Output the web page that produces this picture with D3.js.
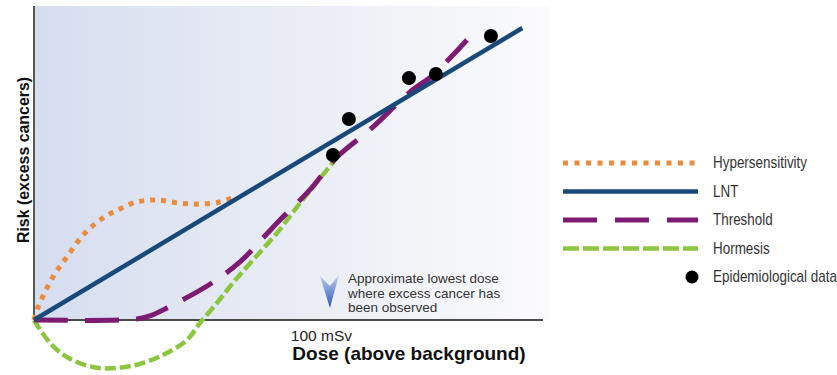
<!DOCTYPE html>
<html>
<head>
<meta charset="utf-8">
<script src="https://cdn.jsdelivr.net/npm/d3@7/dist/d3.min.js"></script>
<style>
  html, body { margin: 0; padding: 0; background: #fff; }
  svg { display: block; }
</style>
</head>
<body>
<script>
// Dose–response models for low-dose radiation risk (arbitrary units, dose in mSv)
const lntDose = [0, 165];
const lntRisk = [0, 165];

const hyperDose = [0, 1.4, 6.4, 11.1, 16.6, 22.3, 28, 34.8, 41.6, 49.3, 56, 62.8, 67.2];
const hyperRisk = [0, 7.3, 24.3, 35.6, 48, 56.5, 62, 66.7, 67.8, 66, 65.5, 66.7, 69];

const thresholdDose = [0, 34.8, 39.9, 44.9, 52.7, 60.1, 69.6, 78, 83.1, 93.2, 102.4, 114.2, 127, 134.8, 146.3];
const thresholdRisk = [0, 0.6, 2.8, 6.8, 13.6, 20.9, 32.8, 47.5, 56.5, 73.5, 92.1, 108.5, 128.8, 138.4, 158.2];

const hormesisDose = [0, 5.4, 11.1, 19.9, 28, 36.8, 44.9, 51.7, 56.1, 61.8, 67.2, 74, 82.1, 89.9, 101.7];
const hormesisRisk = [0, -13, -20.9, -26.6, -27.1, -24.3, -18.6, -11.3, -1.7, 9.6, 20.9, 33.9, 49.2, 66.1, 90.4];

const epiDose = [101.0, 106.4, 126.7, 135.8, 154.4];
const epiRisk = [93.2, 113.6, 136.7, 139.0, 160.5];

const doseTicks = [100];
const doseTickLabels = ["100 mSv"];

const legendLabels = ["Hypersensitivity", "LNT", "Threshold", "Hormesis", "Epidemiological data"];
const noteLines = ["Approximate lowest dose", "where excess cancer has", "been observed"];

const W = 837, H = 375;
const svg = d3.select("body").append("svg").attr("width", W).attr("height", H);

const x = d3.scaleLinear().domain([0, 172]).range([34, 543]);
const y = d3.scaleLinear().domain([0, 165]).range([320, 28]);
const plotTop = 6;
const sans = "'Liberation Sans', Arial, Helvetica, sans-serif";

const defs = svg.append("defs");
const bg = defs.append("linearGradient").attr("id", "bgGrad").attr("x1", "0").attr("x2", "1").attr("y1", "0").attr("y2", "0");
bg.append("stop").attr("offset", "0").attr("stop-color", "#d5ddef");
bg.append("stop").attr("offset", "0.55").attr("stop-color", "#ebeef5");
bg.append("stop").attr("offset", "1").attr("stop-color", "#fbfbfd");

const arr = defs.append("linearGradient").attr("id", "arrowGrad").attr("x1", "0").attr("x2", "0").attr("y1", "0").attr("y2", "1");
arr.append("stop").attr("offset", "0").attr("stop-color", "#bfd0f0");
arr.append("stop").attr("offset", "1").attr("stop-color", "#2f58b4");

// plot background
svg.append("rect")
  .attr("x", x(0)).attr("y", plotTop)
  .attr("width", 550 - x(0)).attr("height", y(0) - plotTop)
  .attr("fill", "url(#bgGrad)");

// axes
svg.append("line").attr("x1", x(0)).attr("x2", x(0)).attr("y1", plotTop).attr("y2", y(0))
  .attr("stroke", "#5a5a5a").attr("stroke-width", 2);
svg.append("line").attr("x1", x(0)).attr("x2", x(172)).attr("y1", y(0)).attr("y2", y(0))
  .attr("stroke", "#4a4a4a").attr("stroke-width", 2);

const xAxis = d3.axisBottom(x).tickValues(doseTicks)
  .tickFormat((d, i) => doseTickLabels[i]).tickSize(0).tickPadding(10);
const gx = svg.append("g").attr("transform", `translate(0,${y(0)})`).call(xAxis);
gx.select(".domain").remove();
gx.selectAll("text")
  .attr("dx", -9)
  .attr("font-family", sans)
  .attr("font-size", 15.5).attr("fill", "#222");

// axis titles
svg.append("text")
  .attr("transform", `translate(23,160) rotate(-90)`)
  .attr("text-anchor", "middle").attr("dominant-baseline", "central")
  .attr("font-family", sans)
  .attr("font-weight", "bold").attr("font-size", 15.9).attr("fill", "#111")
  .text("Risk (excess cancers)");

svg.append("text")
  .attr("x", 409).attr("y", 360)
  .attr("text-anchor", "middle")
  .attr("font-family", sans)
  .attr("font-weight", "bold").attr("font-size", 19).attr("fill", "#111")
  .text("Dose (above background)");

// lowest-observed-dose marker
const ax = x(doseTicks[0]);
svg.append("path")
  .attr("d", `M${ax - 10},${276} L${ax},${286} L${ax + 9},${275} L${ax},${308} Z`)
  .attr("fill", "url(#arrowGrad)");
svg.append("g").selectAll("text").data(noteLines).join("text")
  .attr("x", ax + 18).attr("y", (d, i) => 283 + i * 14.5)
  .attr("font-family", sans)
  .attr("font-size", 13.5).attr("fill", "#333")
  .text(d => d);

const zip = (a, b) => a.map((v, i) => [v, b[i]]);
const line = d3.line().x(d => x(d[0])).y(d => y(d[1])).curve(d3.curveCatmullRom.alpha(0.5));

const styles = {
  hyper:     { color: "#ee8a3c", width: 5,   dash: "5,6" },
  lnt:       { color: "#19497a", width: 4.5, dash: null },
  threshold: { color: "#7d1a71", width: 5,   dash: "34,17" },
  hormesis:  { color: "#8cc63f", width: 4.5, dash: "11,4" }
};

function drawCurve(pts, s) {
  svg.append("path").datum(pts).attr("d", line)
    .attr("fill", "none").attr("stroke", s.color).attr("stroke-width", s.width)
    .attr("stroke-dasharray", s.dash);
}

drawCurve(zip(hyperDose, hyperRisk), styles.hyper);
drawCurve(zip(hormesisDose, hormesisRisk), styles.hormesis);
drawCurve(zip(thresholdDose, thresholdRisk), styles.threshold);
drawCurve(zip(lntDose, lntRisk), styles.lnt);

svg.append("g").selectAll("circle").data(zip(epiDose, epiRisk)).join("circle")
  .attr("cx", d => x(d[0])).attr("cy", d => y(d[1])).attr("r", 7)
  .attr("fill", "#000");

// legend
const legendStyles = [
  { ...styles.hyper, dash: "5,6.5" },
  styles.lnt,
  { ...styles.threshold, dash: "34,18" },
  { ...styles.hormesis, dash: "16,4" }
];
const lg = svg.append("g");
const ly = i => 163 + i * 28.5;
legendStyles.forEach((s, i) => {
  lg.append("line").attr("x1", 563).attr("x2", 698).attr("y1", ly(i)).attr("y2", ly(i))
    .attr("stroke", s.color).attr("stroke-width", s.width).attr("stroke-dasharray", s.dash);
});
lg.append("circle").attr("cx", 692).attr("cy", ly(4)).attr("r", 6.5).attr("fill", "#000");
// condensed label face
lg.selectAll("text").data(legendLabels).join("text")
  .attr("transform", (d, i) => `translate(713,${ly(i)}) scale(0.84,1)`)
  .attr("dominant-baseline", "central")
  .attr("font-family", sans)
  .attr("font-size", 16).attr("fill", "#333")
  .text(d => d);
</script>
</body>
</html>
